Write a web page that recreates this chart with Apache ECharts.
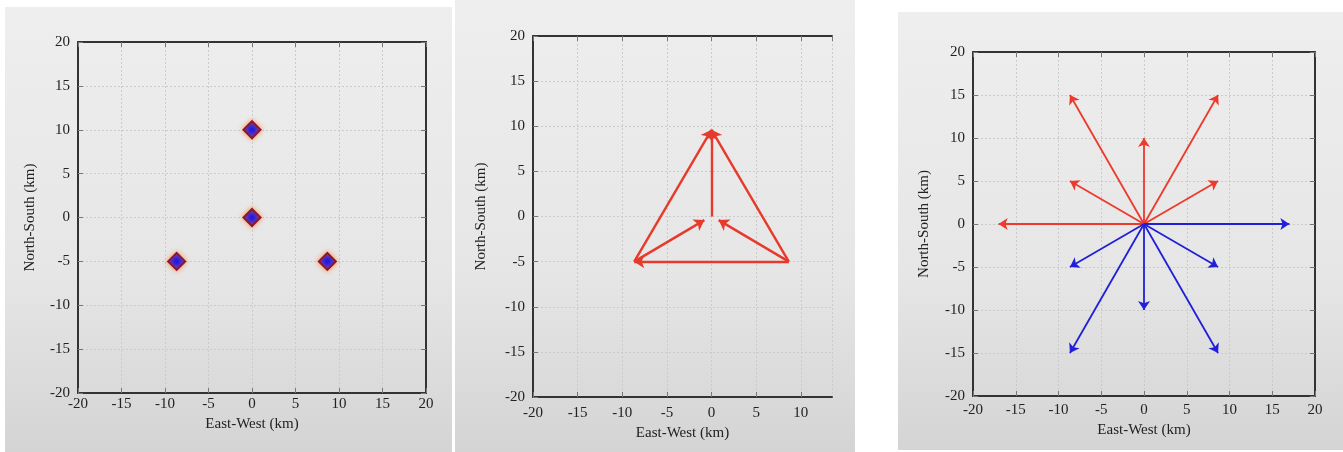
<!DOCTYPE html>
<html><head><meta charset="utf-8">
<script src="https://cdn.jsdelivr.net/npm/echarts@6/dist/echarts.min.js"></script>
<style>html,body{margin:0;padding:0;background:#fff}#c{width:1343px;height:452px}</style>
</head><body><div id="c"></div>
<script>
// ---- data ----
const tickValues = [-20, -15, -10, -5, 0, 5, 10, 15, 20];
const xLabel = 'East-West (km)';
const yLabel = 'North-South (km)';
// panel 1: station positions
const stationX = [0, 0, -8.66, 8.66];
const stationY = [10, 0, -5, -5];
// panel 2: arrows (start -> end)
const triX0 = [0, -8.66, 8.66, 8.66, -8.66, 8.66];
const triY0 = [0, -5, -5, -5, -5, -5];
const triX1 = [0, 0, 0, -8.66, -0.8, 0.8];
const triY1 = [9.6, 9.6, 9.6, -5, -0.4, -0.4];
// panel 3: vectors from origin
const redX = [-17, -8.66, -8.66, 0, 8.66, 8.66];
const redY = [0, 5, 15, 10, 15, 5];
const blueX = [17, 8.66, 8.66, 0, -8.66, -8.66];
const blueY = [0, -5, -15, -10, -15, -5];

const FONT = 'Liberation Serif';
const AX = '#333333';
const TXT = '#222222';
const grids = [
  {left: 78, top: 42, width: 348, height: 351},
  {left: 533, top: 36, width: 299, height: 361},
  {left: 973, top: 52, width: 342, height: 344}
];
const xMax = [20, 13.5, 20];
const xNameGap = [21, 27, 19];
const xLabelMargin = [4, 9, 7];
const yNameGap = [40, 44, 41];
const rightLine = [true, false, true];

const xAxes = [], yAxes = [];
grids.forEach((g, i) => {
  xAxes.push({
    gridIndex: i, type: 'value', min: -20, max: xMax[i], interval: 5,
    name: xLabel, nameLocation: 'middle', nameGap: xNameGap[i],
    nameTextStyle: {fontFamily: FONT, fontSize: 15, color: TXT},
    axisLine: {show: true, onZero: false, lineStyle: {color: AX, width: 2}},
    axisTick: {show: true, inside: true, length: 5, lineStyle: {color: '#777'}},
    axisLabel: {fontFamily: FONT, fontSize: 15, color: TXT, margin: xLabelMargin[i],
      showMaxLabel: xMax[i] === 20,
      formatter: v => tickValues.includes(v) ? String(v) : ''},
    splitLine: {show: true, lineStyle: {color: '#cbcbcb', type: [2, 2], width: 1}}
  });
  xAxes.push({
    gridIndex: i, type: 'value', min: -20, max: xMax[i], interval: 5, position: 'top',
    axisLine: {show: true, onZero: false, lineStyle: {color: AX, width: 2}},
    axisTick: {show: true, inside: true, length: 5, lineStyle: {color: '#777'}},
    axisLabel: {show: false}, splitLine: {show: false}
  });
  yAxes.push({
    gridIndex: i, type: 'value', min: -20, max: 20, interval: 5,
    name: yLabel, nameLocation: 'middle', nameGap: yNameGap[i], nameRotate: 90,
    nameTextStyle: {fontFamily: FONT, fontSize: 15, color: TXT},
    axisLine: {show: true, onZero: false, lineStyle: {color: AX, width: 2}},
    axisTick: {show: true, inside: true, length: 5, lineStyle: {color: '#777'}},
    axisLabel: {fontFamily: FONT, fontSize: 15, color: TXT, margin: 8},
    splitLine: {show: true, lineStyle: {color: '#cbcbcb', type: [2, 2], width: 1}}
  });
  yAxes.push({
    gridIndex: i, type: 'value', min: -20, max: 20, interval: 5, position: 'right',
    axisLine: {show: rightLine[i], onZero: false, lineStyle: {color: AX, width: 2}},
    axisTick: {show: rightLine[i], inside: true, length: 5, lineStyle: {color: '#777'}},
    axisLabel: {show: false}, splitLine: {show: false}
  });
});

function vec(x0, y0, x1, y1) {
  return x1.map((_, k) => ({coords: [[x0[k], y0[k]], [x1[k], y1[k]]]}));
}
const zeros = redX.map(() => 0);

const bgGrad = {type: 'linear', x: 0, y: 0, x2: 0, y2: 1,
  colorStops: [{offset: 0, color: '#eeeeee'}, {offset: 0.6, color: '#e6e6e6'}, {offset: 1, color: '#d4d4d4'}]};

const option = {
  backgroundColor: '#ffffff',
  animation: false,
  graphic: [
    {type: 'rect', z: -10, shape: {x: 5, y: 7, width: 447, height: 445}, style: {fill: bgGrad}},
    {type: 'rect', z: -10, shape: {x: 455, y: 0, width: 400, height: 452}, style: {fill: bgGrad}},
    {type: 'rect', z: -10, shape: {x: 898, y: 12, width: 445, height: 438}, style: {fill: bgGrad}}
  ],
  grid: grids.map(g => Object.assign({show: false}, g)),
  xAxis: xAxes,
  yAxis: yAxes,
  series: [
    {
      type: 'scatter', xAxisIndex: 0, yAxisIndex: 0,
      data: stationX.map((x, k) => [x, stationY[k]]),
      symbol: 'diamond', symbolSize: 17,
      itemStyle: {color: '#1010f0', borderColor: '#8a1830', borderWidth: 2, opacity: 1,
        shadowColor: 'rgba(255,140,60,0.9)', shadowBlur: 5}
    },
    {
      type: 'lines', coordinateSystem: 'cartesian2d', xAxisIndex: 2, yAxisIndex: 2,
      data: vec(triX0, triY0, triX1, triY1),
      symbol: ['none', 'arrow'], symbolSize: 10,
      lineStyle: {color: '#e63a2a', width: 2.4, opacity: 1}
    },
    {
      type: 'lines', coordinateSystem: 'cartesian2d', xAxisIndex: 4, yAxisIndex: 4,
      data: vec(zeros, zeros, redX, redY),
      symbol: ['none', 'arrow'], symbolSize: 9,
      lineStyle: {color: '#ec3a2c', width: 1.8, opacity: 1}
    },
    {
      type: 'lines', coordinateSystem: 'cartesian2d', xAxisIndex: 4, yAxisIndex: 4,
      data: vec(zeros, zeros, blueX, blueY),
      symbol: ['none', 'arrow'], symbolSize: 9,
      lineStyle: {color: '#2020d8', width: 1.8, opacity: 1}
    }
  ]
};
const chart = echarts.init(document.getElementById('c'), null, {renderer: 'canvas'});
chart.setOption(option);
</script>
</body></html>
